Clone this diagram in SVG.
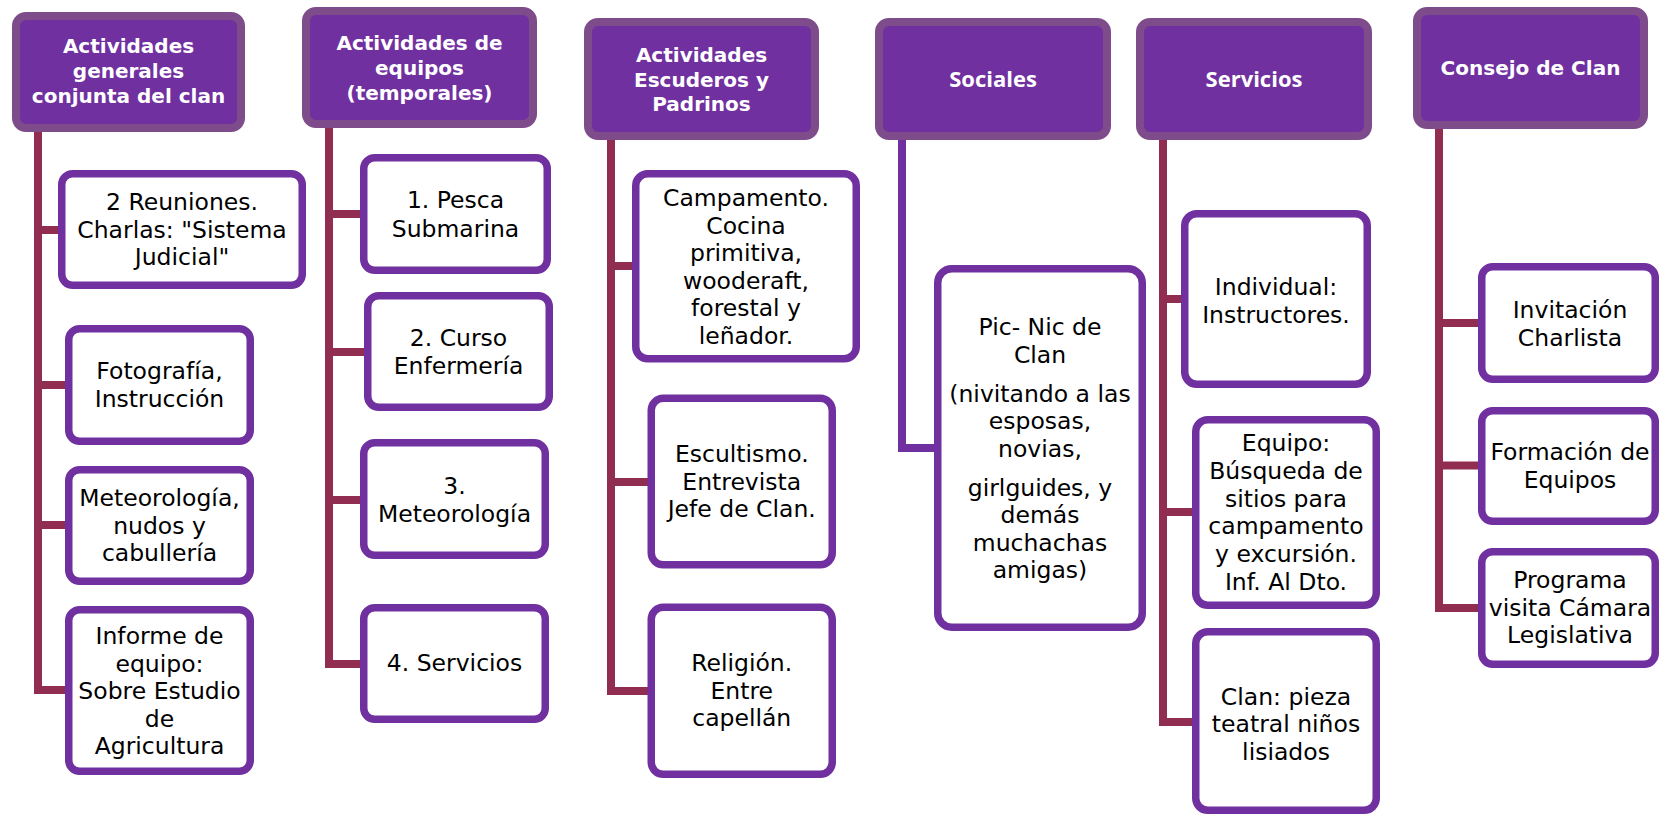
<svg xmlns="http://www.w3.org/2000/svg" width="1660" height="817" viewBox="0 0 1660 817">
<style>
.hdr rect{fill:#7030A0;stroke:#7E4C8A;stroke-width:8}
.hdr text{font-family:"DejaVu Sans",sans-serif;font-weight:bold;font-size:20px;fill:#fff;text-anchor:middle}
.hdr text.alt{font-family:"Open Sans","Noto Sans",sans-serif;font-size:22px}
.box rect{fill:#fff;stroke:#7030A0;stroke-width:7.5}
.box text{font-family:"DejaVu Sans",sans-serif;font-size:23.5px;fill:#000;text-anchor:middle}
.conn path{fill:none;stroke:#922D52;stroke-width:8;stroke-linejoin:miter}
.conn path.soc{stroke:#7030A0}
</style>
<rect width="1660" height="817" fill="#fff"/>
<g id="connectors" class="conn">
<path d="M38,128 V690 H66 M38,230 H59 M38,385 H66 M38,525 H66"/>
<path d="M329,125 V664 H361 M329,214 H361 M329,352 H365 M329,500 H361"/>
<path d="M611,137 V691 H649 M611,266 H633 M611,482 H649"/>
<path class="soc" d="M902,137 V448 H935"/>
<path d="M1163,137 V722 H1193 M1163,299 H1182 M1163,512 H1193"/>
<path d="M1439,126 V608 H1479 M1439,323 H1479 M1439,465.5 H1479"/>
</g>
<g id="h1" class="hdr"><rect x="16" y="16" width="225" height="112" rx="10"/><text x="128.5" y="53">Actividades<tspan x="128.5" dy="25">generales</tspan><tspan x="128.5" dy="25">conjunta del clan</tspan></text></g>
<g id="h2" class="hdr"><rect x="306" y="11" width="227" height="113" rx="10"/><text x="419.5" y="50">Actividades de<tspan x="419.5" dy="25">equipos</tspan><tspan x="419.5" dy="25">(temporales)</tspan></text></g>
<g id="h3" class="hdr"><rect x="588" y="22" width="227" height="114" rx="10"/><text x="701.5" y="62">Actividades<tspan x="701.5" dy="24.6">Escuderos y</tspan><tspan x="701.5" dy="24.6">Padrinos</tspan></text></g>
<g id="h4" class="hdr"><rect x="879" y="22" width="228" height="114" rx="10"/><text class="alt" x="993" y="87">Sociales</text></g>
<g id="h5" class="hdr"><rect x="1140" y="22" width="228" height="114" rx="10"/><text class="alt" x="1254" y="87">Servicios</text></g>
<g id="h6" class="hdr"><rect x="1417" y="11" width="227" height="114" rx="10"/><text x="1530.5" y="75">Consejo de Clan</text></g>

<g id="c1a" class="box"><rect x="61.75" y="173.75" width="240.5" height="111.5" rx="11"/><text x="182" y="210">2 Reuniones.<tspan x="182" dy="27.5">Charlas: "Sistema</tspan><tspan x="182" dy="27.5">Judicial"</tspan></text></g>
<g id="c1b" class="box"><rect x="68.75" y="328.75" width="181.5" height="112.5" rx="11"/><text x="159.5" y="379">Fotografía,<tspan x="159.5" dy="28">Instrucción</tspan></text></g>
<g id="c1c" class="box"><rect x="68.75" y="469.75" width="181.5" height="111.5" rx="11"/><text x="159.5" y="506">Meteorología,<tspan x="159.5" dy="27.5">nudos y</tspan><tspan x="159.5" dy="27.5">cabullería</tspan></text></g>
<g id="c1d" class="box"><rect x="68.75" y="609.75" width="181.5" height="161.5" rx="11"/><text x="159.5" y="644">Informe de<tspan x="159.5" dy="27.5">equipo:</tspan><tspan x="159.5" dy="27.5">Sobre Estudio</tspan><tspan x="159.5" dy="27.5">de</tspan><tspan x="159.5" dy="27.5">Agricultura</tspan></text></g>

<g id="c2a" class="box"><rect x="363.75" y="157.75" width="183.5" height="112.5" rx="11"/><text x="455.5" y="208">1. Pesca<tspan x="455.5" dy="28.5">Submarina</tspan></text></g>
<g id="c2b" class="box"><rect x="367.75" y="295.75" width="181.5" height="111.5" rx="11"/><text x="458.5" y="346">2. Curso<tspan x="458.5" dy="27.5">Enfermería</tspan></text></g>
<g id="c2c" class="box"><rect x="363.75" y="442.75" width="181.5" height="112.5" rx="11"/><text x="454.5" y="494">3.<tspan x="454.5" dy="27.5">Meteorología</tspan></text></g>
<g id="c2d" class="box"><rect x="363.75" y="607.75" width="181.5" height="111.5" rx="11"/><text x="454.5" y="671">4. Servicios</text></g>

<g id="c3a" class="box"><rect x="635.75" y="173.75" width="220.5" height="185" rx="12"/><text x="746" y="206">Campamento.<tspan x="746" dy="27.5">Cocina</tspan><tspan x="746" dy="27.5">primitiva,</tspan><tspan x="746" dy="27.5">wooderaft,</tspan><tspan x="746" dy="27.5">forestal y</tspan><tspan x="746" dy="27.5">leñador.</tspan></text></g>
<g id="c3b" class="box"><rect x="651.25" y="398.35" width="181" height="166.5" rx="12"/><text x="741.75" y="462">Escultismo.<tspan x="741.75" dy="27.5">Entrevista</tspan><tspan x="741.75" dy="27.5">Jefe de Clan.</tspan></text></g>
<g id="c3c" class="box"><rect x="651.25" y="607.35" width="181" height="167" rx="12"/><text x="741.75" y="671">Religión.<tspan x="741.75" dy="27.5">Entre</tspan><tspan x="741.75" dy="27.5">capellán</tspan></text></g>

<g id="c4" class="box"><rect x="937.75" y="268.75" width="204.5" height="358.5" rx="14"/><text x="1040" y="335">Pic- Nic de<tspan x="1040" dy="27.5">Clan</tspan><tspan x="1040" dy="39">(nivitando a las</tspan><tspan x="1040" dy="27.5">esposas,</tspan><tspan x="1040" dy="27.5">novias,</tspan><tspan x="1040" dy="39">girlguides, y</tspan><tspan x="1040" dy="27.5">demás</tspan><tspan x="1040" dy="27.5">muchachas</tspan><tspan x="1040" dy="27.5">amigas)</tspan></text></g>

<g id="c5a" class="box"><rect x="1184.75" y="213.75" width="182.5" height="170.5" rx="12"/><text x="1276" y="294.5">Individual:<tspan x="1276" dy="28">Instructores.</tspan></text></g>
<g id="c5b" class="box"><rect x="1195.75" y="419.75" width="180.5" height="185.5" rx="12"/><text x="1286" y="451">Equipo:<tspan x="1286" dy="27.8">Búsqueda de</tspan><tspan x="1286" dy="27.8">sitios para</tspan><tspan x="1286" dy="27.8">campamento</tspan><tspan x="1286" dy="27.8">y excursión.</tspan><tspan x="1286" dy="27.8">Inf. Al Dto.</tspan></text></g>
<g id="c5c" class="box"><rect x="1195.75" y="631.75" width="180.5" height="178.5" rx="12"/><text x="1286" y="704.5">Clan: pieza<tspan x="1286" dy="27.8">teatral niños</tspan><tspan x="1286" dy="27.8">lisiados</tspan></text></g>

<g id="c6a" class="box"><rect x="1481.75" y="266.75" width="173.5" height="112.5" rx="11"/><text x="1570" y="318">Invitación<tspan x="1570" dy="28">Charlista</tspan></text></g>
<g id="c6b" class="box"><rect x="1481.75" y="410.75" width="173.5" height="110.5" rx="11"/><text x="1570" y="460">Formación de<tspan x="1570" dy="28">Equipos</tspan></text></g>
<g id="c6c" class="box"><rect x="1481.75" y="551.75" width="173.5" height="112.5" rx="11"/><text x="1570" y="588">Programa<tspan x="1570" dy="27.5">visita Cámara</tspan><tspan x="1570" dy="27.5">Legislativa</tspan></text></g>
</svg>
